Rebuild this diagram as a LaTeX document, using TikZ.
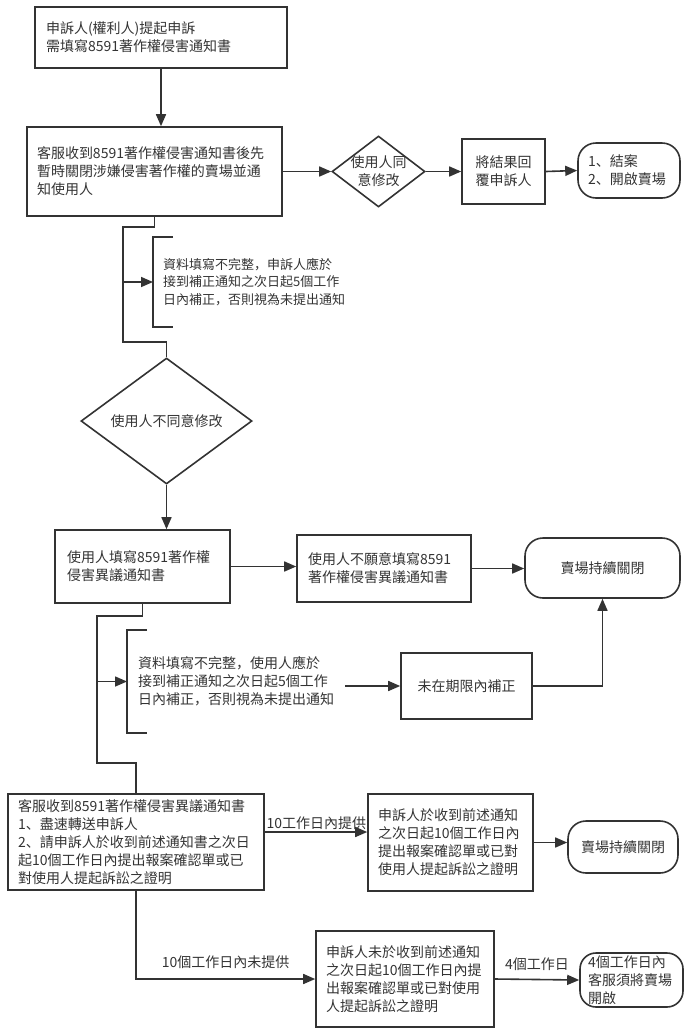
\documentclass[tikz,border=0pt]{standalone}
\usepackage{fontspec}
\newfontfamily\cjk{Noto Sans CJK SC}
\usetikzlibrary{shapes.geometric, arrows.meta}
\definecolor{lc}{HTML}{333333}
\begin{document}
\begin{tikzpicture}[x=1pt, y=-1pt,
  every node/.style={text=lc, font=\cjk\fontsize{14}{18}\selectfont},
  box/.style={draw=lc, line width=1.6pt, align=left, inner ysep=0pt},
  term/.style={box, rounded corners=18pt},
  dia/.style={draw=lc, line width=1.6pt, diamond, inner sep=0pt},
  note/.style={anchor=west, align=left, inner ysep=0pt, inner xsep=10pt},
  line/.style={draw=lc, line width=1.6pt},
  arr/.style={line, -{Triangle[length=12pt, width=10pt]}}]
  \useasboundingbox (0,0) rectangle (690,1034);

  % top row
  \node[box, minimum height=61pt, text width=230pt, inner xsep=11pt] (cmp) at (161,37.5)
    {申訴人(權利人)提起申訴\\需填寫8591著作權侵害通知書};
  \node[box, minimum height=89pt, text width=235pt, inner xsep=10pt] (svc) at (154.5,171.5)
    {客服收到8591著作權侵害通知書後先\\暫時關閉涉嫌侵害著作權的賣場並通\\知使用人};
  \node[dia, minimum width=93pt, minimum height=71pt,
    label={[align=center]center:使用人同\\意修改}] (agree) at (378.5,171.5) {};
  \node[box, align=center, minimum height=65pt, text width=63pt, inner xsep=10pt] (reply) at (503.5,171.5)
    {將結果回\\覆申訴人};
  \node[term, minimum height=55pt, text width=82pt, inner xsep=10pt] (close1) at (629,170.5)
    {1、結案\\2、開啟賣場};

  % first note and disagreement
  \node[note, minimum height=90pt, text width=185pt, font=\cjk\fontsize{13}{17.5}\selectfont] (note1) at (153,282)
    {資料填寫不完整，申訴人應於\\接到補正通知之次日起5個工作\\日內補正，否則視為未提出通知};
  \node[dia, minimum width=171pt, minimum height=126pt,
    label={center:使用人不同意修改}] (disagree) at (166.5,421) {};

  % counter notice row
  \node[box, minimum height=73pt, text width=151pt, inner xsep=12pt] (counter) at (142.5,566.5)
    {使用人填寫8591著作權\\侵害異議通知書};
  \node[box, minimum height=67pt, text width=152pt, inner xsep=11pt] (refuse) at (384,568.5)
    {使用人不願意填寫8591\\著作權侵害異議通知書};
  \node[term, align=center, minimum height=60pt, text width=135pt, inner xsep=10pt] (keep1) at (602.5,568)
    {賣場持續關閉};
  \node[note, minimum height=103pt, text width=196pt, inner xsep=11pt] (note2) at (127,681.5)
    {資料填寫不完整，使用人應於\\接到補正通知之次日起5個工作\\日內補正，否則視為未提出通知};
  \node[box, align=center, minimum height=66pt, text width=111pt, inner xsep=10pt] (late) at (466.5,686)
    {未在期限內補正};

  % lower rows
  \node[box, minimum height=96pt, text width=236pt, inner xsep=10pt] (recv) at (136,842)
    {客服收到8591著作權侵害異議通知書\\1、盡速轉送申訴人\\2、請申訴人於收到前述通知書之次日\\起10個工作日內提出報案確認單或已\\對使用人提起訴訟之證明};
  \node[box, minimum height=97pt, text width=145pt, inner xsep=10pt] (proof) at (450.5,842.5)
    {申訴人於收到前述通知\\之次日起10個工作日內\\提出報案確認單或已對\\使用人提起訴訟之證明};
  \node[term, align=center, minimum height=52pt, text width=90pt, inner xsep=10pt] (keep2) at (623,847)
    {賣場持續關閉};
  \node[box, minimum height=96pt, text width=158pt, inner xsep=10pt] (nproof) at (405,979)
    {申訴人未於收到前述通知\\之次日起10個工作日內提\\出報案確認單或已對使用\\人提起訴訟之證明};
  \node[term, rounded corners=16pt, minimum height=54pt, text width=87pt, inner xsep=8pt] (reopen) at (631.5,980)
    {4個工作日內\\客服須將賣場\\開啟};

  \coordinate (bend1) at (123,227);
  \coordinate (bend2) at (166.5,342);
  \coordinate (bend3) at (97,616);
  \coordinate (bend4) at (136,763);

  % connectors
  \draw[arr] (cmp.south) -- (cmp.south |- svc.north);
  \draw[arr] (svc.east) -- (agree.west);
  \draw[arr] (agree.east) -- (reply.west);
  \draw[arr] (reply.east) -- (close1.west);
  \draw[line] (svc.south) |- (bend1) |- (bend2) -- (disagree.north);
  \draw[arr] (bend1 |- note1.west) -- (note1.west);
  \draw[line] ([xshift=20pt]note1.north west) -- (note1.north west) -- (note1.south west) -- ([xshift=20pt]note1.south west);
  \draw[arr] (disagree.south) -- (disagree.south |- counter.north);
  \draw[arr] (counter.east) -- (counter.east -| refuse.west);
  \draw[arr] (refuse.east) -- (refuse.east -| keep1.west);
  \draw[line] (counter.south) |- (bend3) |- (bend4) -- (recv.north);
  \draw[arr] (bend3 |- note2.west) -- (note2.west);
  \draw[line] ([xshift=20pt]note2.north west) -- (note2.north west) -- (note2.south west) -- ([xshift=20pt]note2.south west);
  \draw[arr] (note2.east |- late.west) -- (late.west);
  \draw[arr] (late.east) -| (keep1.south);
  \draw[arr] ([yshift=10pt]recv.east) -- ([yshift=10pt]recv.east -| proof.west)
    node[pos=0, above right, inner xsep=1pt, inner ysep=2pt] {10工作日內提供};
  \draw[arr] (proof.east) -- (proof.east -| keep2.west);
  \draw[arr] (recv.south) |- (nproof.west)
    node[pos=0.75, above=6pt] {10個工作日內未提供};
  \draw[arr] (nproof.east) -- (reopen.west)
    node[midway, above=5pt] {4個工作日};
\end{tikzpicture}
\end{document}
